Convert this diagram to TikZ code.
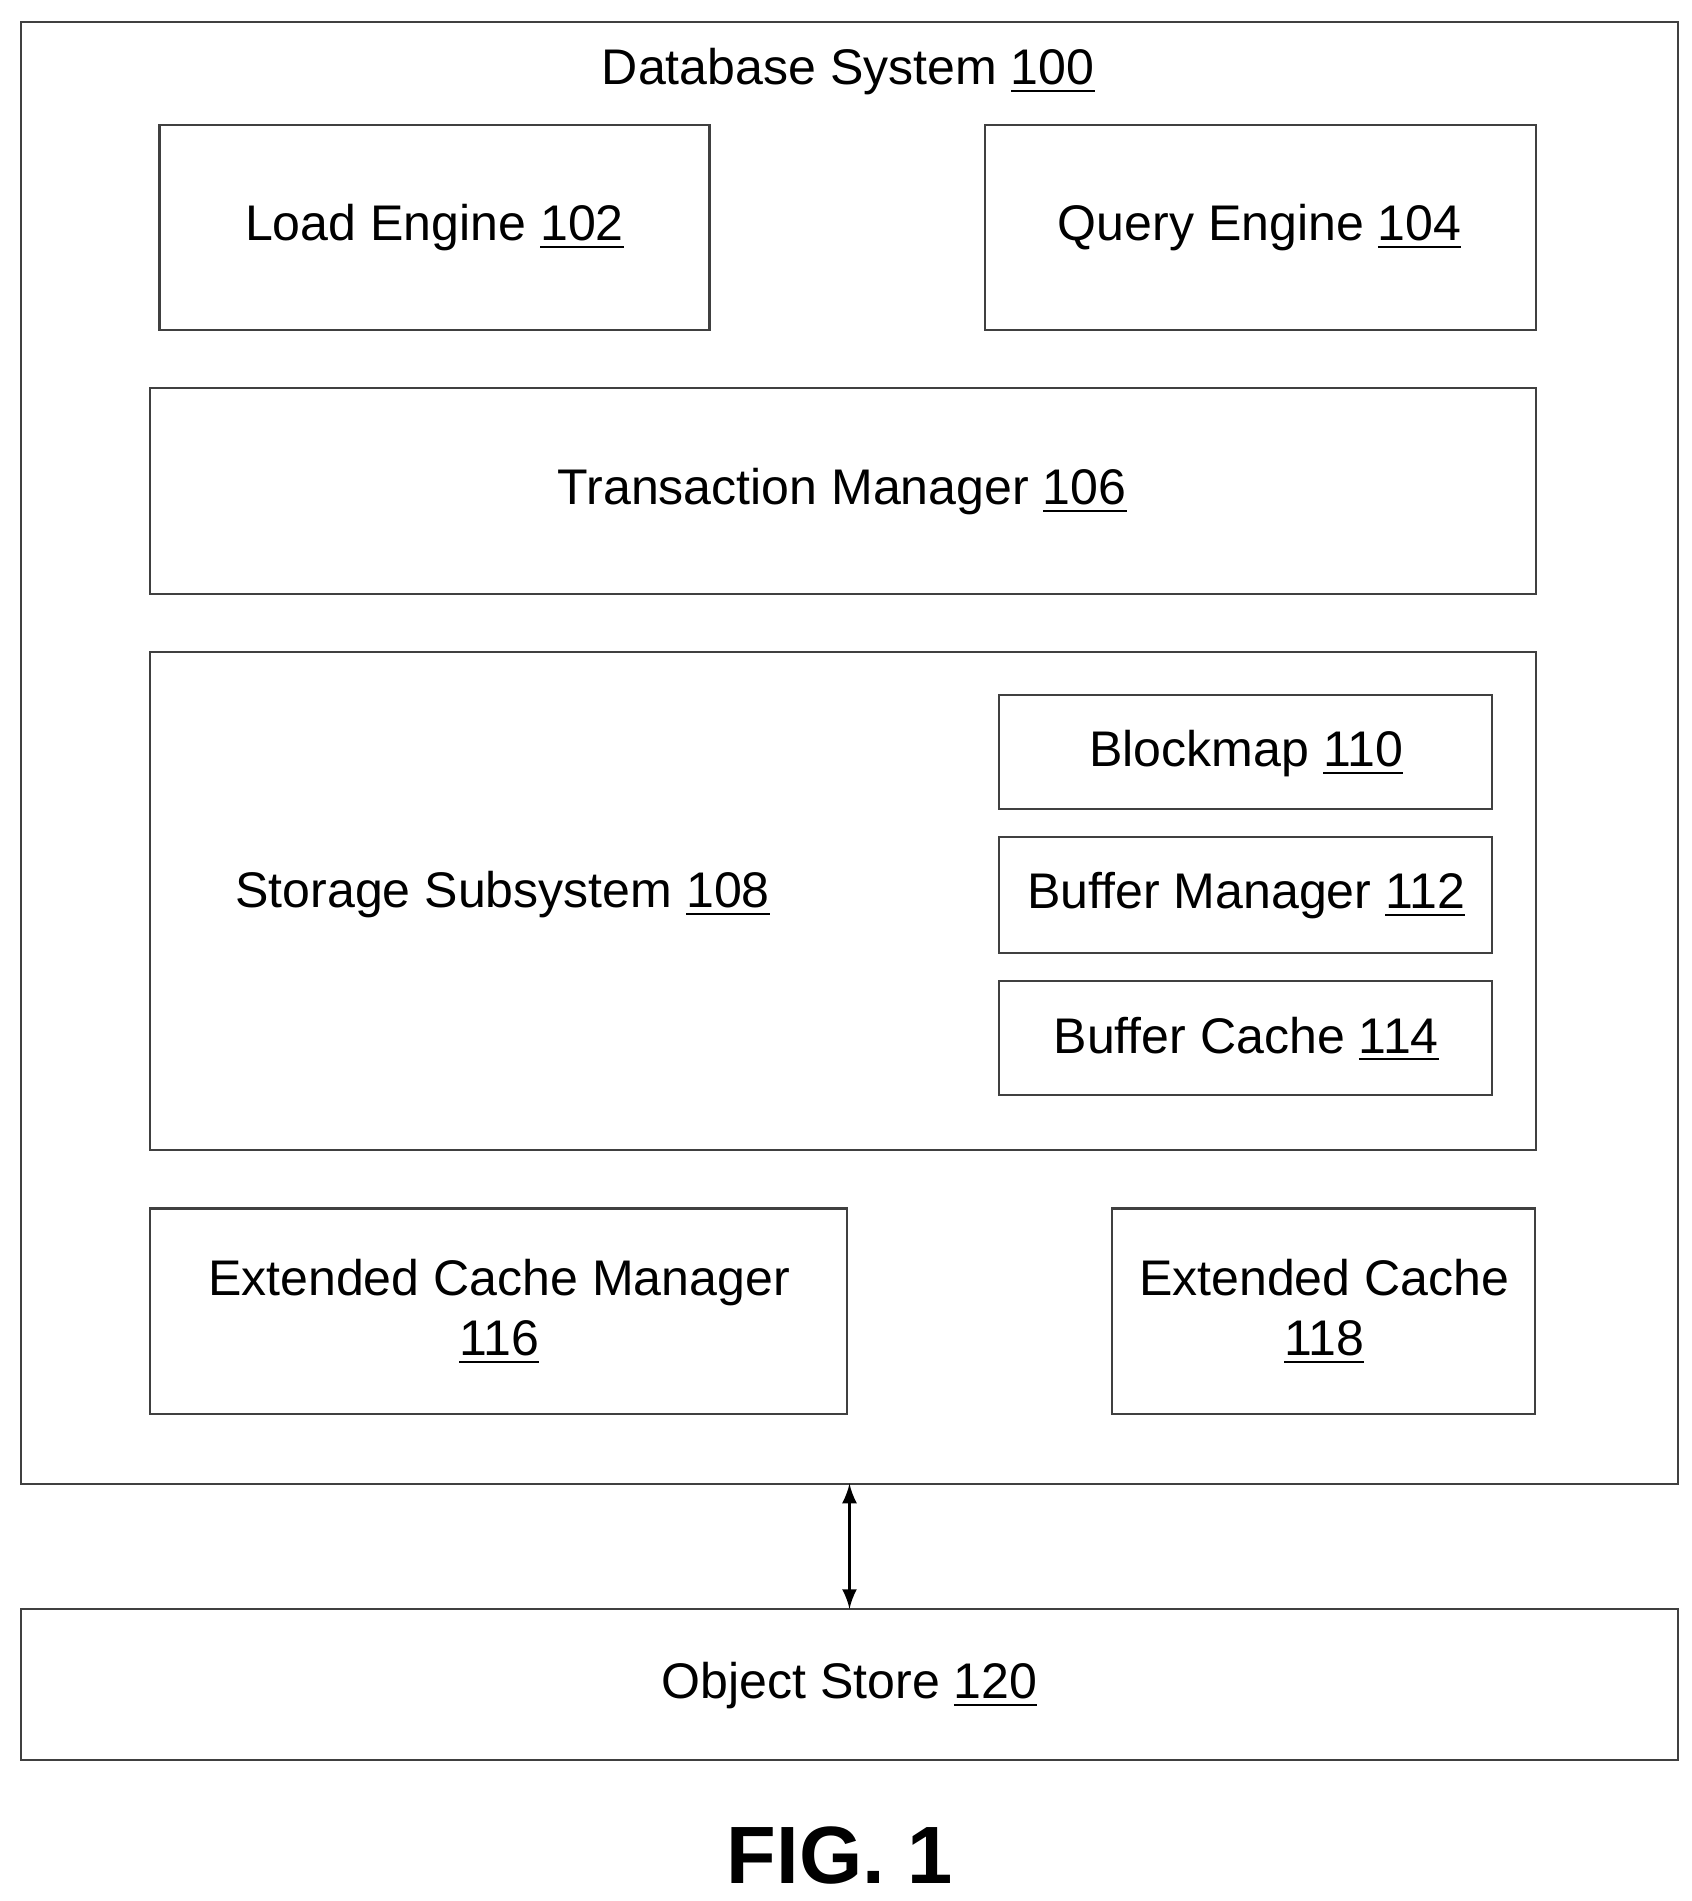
\documentclass[tikz,border=0pt]{standalone}
\usepackage{fontspec}
\setmainfont{Liberation Sans}
\begin{document}
\begin{tikzpicture}[x=0.01cm,y=-0.01cm,
  bx/.style={draw=black!75,line width=0.5pt},
  lb/.style={font=\fontsize{11.7}{14}\selectfont,align=center}]
\useasboundingbox (0,0) rectangle (1390,1562);
\draw[bx] (17,18) rectangle (1379,1219);
\node[lb] (t100) at (697,59) {Database System \underline{100}};
\draw[bx] (131,103) rectangle (583,271); \node[lb] (n102) at (357,187) {Load Engine \underline{102}};
\draw[bx] (809,103) rectangle (1262,271); \node[lb] (n104) at (1035,187) {Query Engine \underline{104}};
\draw[bx] (123,319) rectangle (1262,488); \node[lb] (n106) at (692,404) {Transaction Manager \underline{106}};
\draw[bx] (123,536) rectangle (1262,945); \node[lb] (n108) at (413,735) {Storage Subsystem \underline{108}};
\draw[bx] (821,571) rectangle (1226,665); \node[lb] (n110) at (1024,619) {Blockmap \underline{110}};
\draw[bx] (821,688) rectangle (1226,783); \node[lb] (n112) at (1024,736) {Buffer Manager \underline{112}};
\draw[bx] (821,806) rectangle (1226,900); \node[lb] (n114) at (1024,854) {Buffer Cache \underline{114}};
\draw[bx] (123,993) rectangle (696,1162); \node[lb] (n116) at (410,1078) {Extended Cache Manager\\\underline{116}};
\draw[bx] (914,993) rectangle (1261,1162); \node[lb] (n118) at (1088,1078) {Extended Cache\\\underline{118}};
\draw[bx] (17,1322) rectangle (1379,1446); \node[lb] (n120) at (698,1385) {Object Store \underline{120}};
\coordinate (a) at (698,1219); \coordinate (b) at (698,1322);
\draw[line width=0.6pt,latex-latex] (a) -- (b);
\node[font=\fontsize{19}{22}\selectfont\bfseries] (fig) at (690,1525) {FIG. 1};
\end{tikzpicture}
\end{document}
